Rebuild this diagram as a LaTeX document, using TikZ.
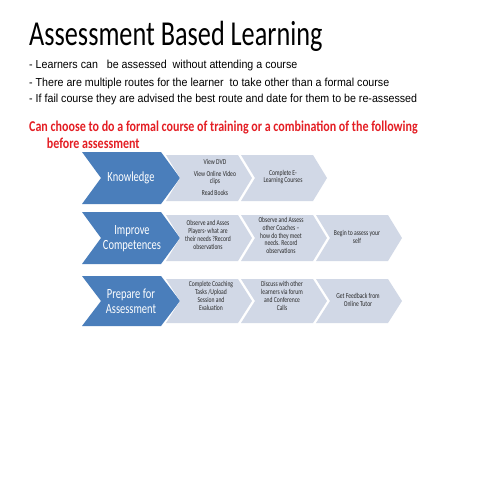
\documentclass[tikz,border=0pt]{standalone}
\usepackage{fontspec}
\setmainfont{Carlito}[FakeStretch=0.75]
\newfontfamily\arialn{Liberation Sans}[FakeStretch=0.92]
\newfontfamily\redfont{Carlito}[FakeStretch=0.8]
\definecolor{chblue}{RGB}{74,126,187}
\definecolor{chgrey}{RGB}{209,216,230}
\definecolor{txred}{RGB}{228,30,36}
\definecolor{txgrey}{RGB}{40,40,40}
\newcommand\chevshape[6]{\fill[#6] (#1,#2) -- ({#1+#4-#5},#2) -- ({#1+#4},{(#2+#3)/2}) -- ({#1+#4-#5},#3) -- (#1,#3) -- ({#1+#5},{(#2+#3)/2}) -- cycle;}
\tikzset{
  bluetxt/.style={text=white, font=\fontsize{14}{15}\selectfont, align=center, inner sep=0pt},
  greytxt/.style={text=txgrey, font=\fontsize{7.5}{7.8}\selectfont, align=center, inner sep=0pt},
  bullet/.style={anchor=base west, inner sep=0pt, font=\arialn\fontsize{11.6}{13}\selectfont},
  redtxt/.style={anchor=base west, inner sep=0pt, text=txred, font=\redfont\bfseries\fontsize{15}{16}\selectfont}
}
\begin{document}
\begin{tikzpicture}[x=1pt,y=-1pt]
\useasboundingbox[fill=white] (0,0) rectangle (480,480);
% heading
\node[anchor=base west, inner sep=0pt, font=\fontsize{35}{40}\selectfont] (title) at (29,45) {Assessment Based Learning};
\node[bullet] (b1) at (29,68.3) {- Learners can \ \ be assessed \ without attending a course};
\node[bullet] (b2) at (29,86) {- There are multiple routes for the learner \ to take other than a formal course};
\node[bullet] (b3) at (29,102.7) {- If fail course they are advised the best route and date for them to be re-assessed};
\node[redtxt] (r1) at (29,131) {Can choose to do a formal course of training or a combination of the following};
\node[redtxt] (r2) at (46.7,148) {before assessment};
% row 1
\chevshape{82}{152}{204}{98}{19}{chblue}
\chevshape{166}{155}{201}{86}{14}{chgrey}
\chevshape{241}{155}{201}{86}{14}{chgrey}
\node[bluetxt] (k) at (131,178) {Knowledge};
\node[greytxt] (k1) at (215,177.5) {View DVD\\[3.5pt]View Online Video\\clips\\[3.5pt]Read Books};
\node[greytxt] (k2) at (283,177) {Complete E-\\Learning Courses};
% row 2
\chevshape{82}{212}{264}{98}{19}{chblue}
\chevshape{166}{215}{261}{86}{14}{chgrey}
\chevshape{241}{215}{261}{86}{14}{chgrey}
\chevshape{316}{215}{261}{86}{14}{chgrey}
\node[bluetxt] (c) at (132,239) {Improve\\Competences};
\node[greytxt] (c1) at (208,235) {Observe and Asses\\Players- what are\\their needs ?Record\\observations};
\node[greytxt] (c2) at (281,235.5) {Observe and Assess\\other Coaches --\\how do they meet\\needs. Record\\observations};
\node[greytxt] (c3) at (357,237) {Begin to assess your\\self};
% row 3
\chevshape{82}{276}{326}{98}{19}{chblue}
\chevshape{166}{279}{323}{86}{14}{chgrey}
\chevshape{241}{279}{323}{86}{14}{chgrey}
\chevshape{316}{279}{323}{86}{14}{chgrey}
\node[bluetxt] (p) at (131,301.5) {Prepare for\\Assessment};
\node[greytxt] (p1) at (211,296) {Complete Coaching\\Tasks /Upload\\Session and\\Evaluation};
\node[greytxt] (p2) at (282,296) {Discuss with other\\learners via forum\\and Conference\\Calls};
\node[greytxt] (p3) at (358,300) {Get Feedback from\\Online Tutor};
\end{tikzpicture}
\end{document}
